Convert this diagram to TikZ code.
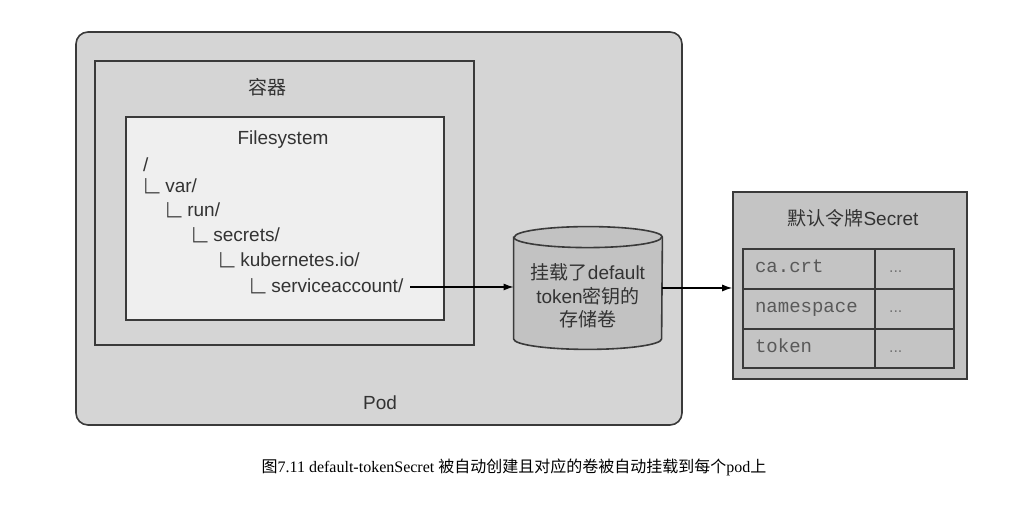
\documentclass[tikz,border=0pt]{standalone}
\usepackage{fontspec}
\usepackage{graphicx}
\setmainfont{Liberation Sans}
\setmonofont{Liberation Mono}
\newfontfamily\cjk{Noto Sans CJK SC}
\newfontfamily\capserif{Liberation Serif}
\usetikzlibrary{arrows.meta}

\definecolor{podgray}{HTML}{D5D5D5}
\definecolor{fsgray}{HTML}{EFEFEF}
\definecolor{volgray}{HTML}{C2C2C2}
\definecolor{secgray}{HTML}{C4C4C4}
\definecolor{inkgray}{HTML}{333333}
\definecolor{edgegray}{HTML}{3A3A3A}

\newcommand{\treebar}{\smash{\raisebox{-0.59em}{\scalebox{1.45}[1.55]{\cjk\bfseries └}}}}

\begin{document}
\begin{tikzpicture}[x=0.5pt, y=0.5pt,
    every node/.style={font=\fontsize{9.5}{11.75}\selectfont, text=inkgray},
    boxline/.style={draw=edgegray, line width=0.8pt},
    treerow/.style={anchor=base west},
    cellrow/.style={anchor=base west, font=\ttfamily\fontsize{9.5}{11}\selectfont, text=black!65},
    celldots/.style={anchor=base west, font=\fontsize{8}{10}\selectfont, text=black!55},
    arr/.style={-{Latex[length=5pt, width=3.5pt]}, line width=0.6pt, draw=black}]
    \useasboundingbox (0,0) rectangle (1028,506);

    % pod
    \draw[boxline, fill=podgray, rounded corners=6pt] (76,81) rectangle (682,474);
    \node (podlabel) at (380,103) {Pod};

    % container
    \draw[boxline, fill=podgray, line width=1pt] (95,161) rectangle (474,445);
    \node (ctlabel) at (267,419) {\cjk 容器};

    % filesystem
    \draw[boxline, fill=fsgray] (126,186) rectangle (444,389);
    \node (fslabel) at (283,366) {Filesystem};
    \node[treerow] (fsroot) at (136,334) {/};
    \node[treerow] (fsvar) at (125,313) {\treebar\hspace{0.3em}var/};
    \node[treerow] (fsrun) at (147,289) {\treebar\hspace{0.3em}run/};
    \node[treerow] (fssecrets) at (173,264) {\treebar\hspace{0.3em}secrets/};
    \node[treerow] (fskube) at (200,239) {\treebar\hspace{0.3em}kubernetes.io/};
    \node[treerow] (fssa) at (231,213) {\treebar\hspace{0.3em}serviceaccount/};

    % volume
    \node[minimum width=74pt, minimum height=61pt, inner sep=0pt] (vol) at (588,218) {};
    \path[boxline, fill=volgray]
        ([yshift=-5.25pt]vol.north west) -- ([yshift=5.25pt]vol.south west)
        arc[start angle=180, end angle=360, x radius=37pt, y radius=5.25pt]
        -- ([yshift=-5.25pt]vol.north east)
        arc[start angle=0, end angle=180, x radius=37pt, y radius=5.25pt] -- cycle;
    \draw[boxline] ([yshift=-5.25pt]vol.north west)
        arc[start angle=180, end angle=360, x radius=37pt, y radius=5.25pt];
    \node[align=center] (voltext) at (588,210) {{\cjk 挂载了}default\\token{\cjk 密钥的}\\{\cjk 存储卷}};

    % secret
    \node[boxline, fill=secgray, minimum width=117pt, minimum height=93.5pt, inner sep=0pt] (secret) at (850,220.5) {};
    \node (sectitle) at (853,288) {{\cjk 默认令牌}Secret};
    \draw[boxline, line width=1pt] (743,138) rectangle (954,257);
    \draw[boxline, line width=1pt] (743,217) -- (954,217);
    \draw[boxline, line width=1pt] (743,177) -- (954,177);
    \draw[boxline, line width=1pt] (875,138) -- (875,257);
    \node[cellrow] (cacrt) at (748,233) {ca.crt};
    \node[cellrow] (nspace) at (748,193) {namespace};
    \node[cellrow] (tokn) at (748,153) {token};
    \node[celldots] (cadots) at (882,233) {...};
    \node[celldots] (nsdots) at (882,193) {...};
    \node[celldots] (tkdots) at (882,153) {...};

    % arrows
    \coordinate (saout) at ([yshift=3pt]fssa.base east);
    \draw[arr] (saout) -- (saout -| vol.west);
    \draw[arr] (vol.east) -- (vol.east -| secret.west);

    % caption
    \node[font=\capserif\fontsize{8}{10}\selectfont, text=black] (caption) at (514,39)
        {{\cjk 图}7.11 default-tokenSecret {\cjk 被自动创建且对应的卷被自动挂载到每个}pod{\cjk 上}};
\end{tikzpicture}
\end{document}
